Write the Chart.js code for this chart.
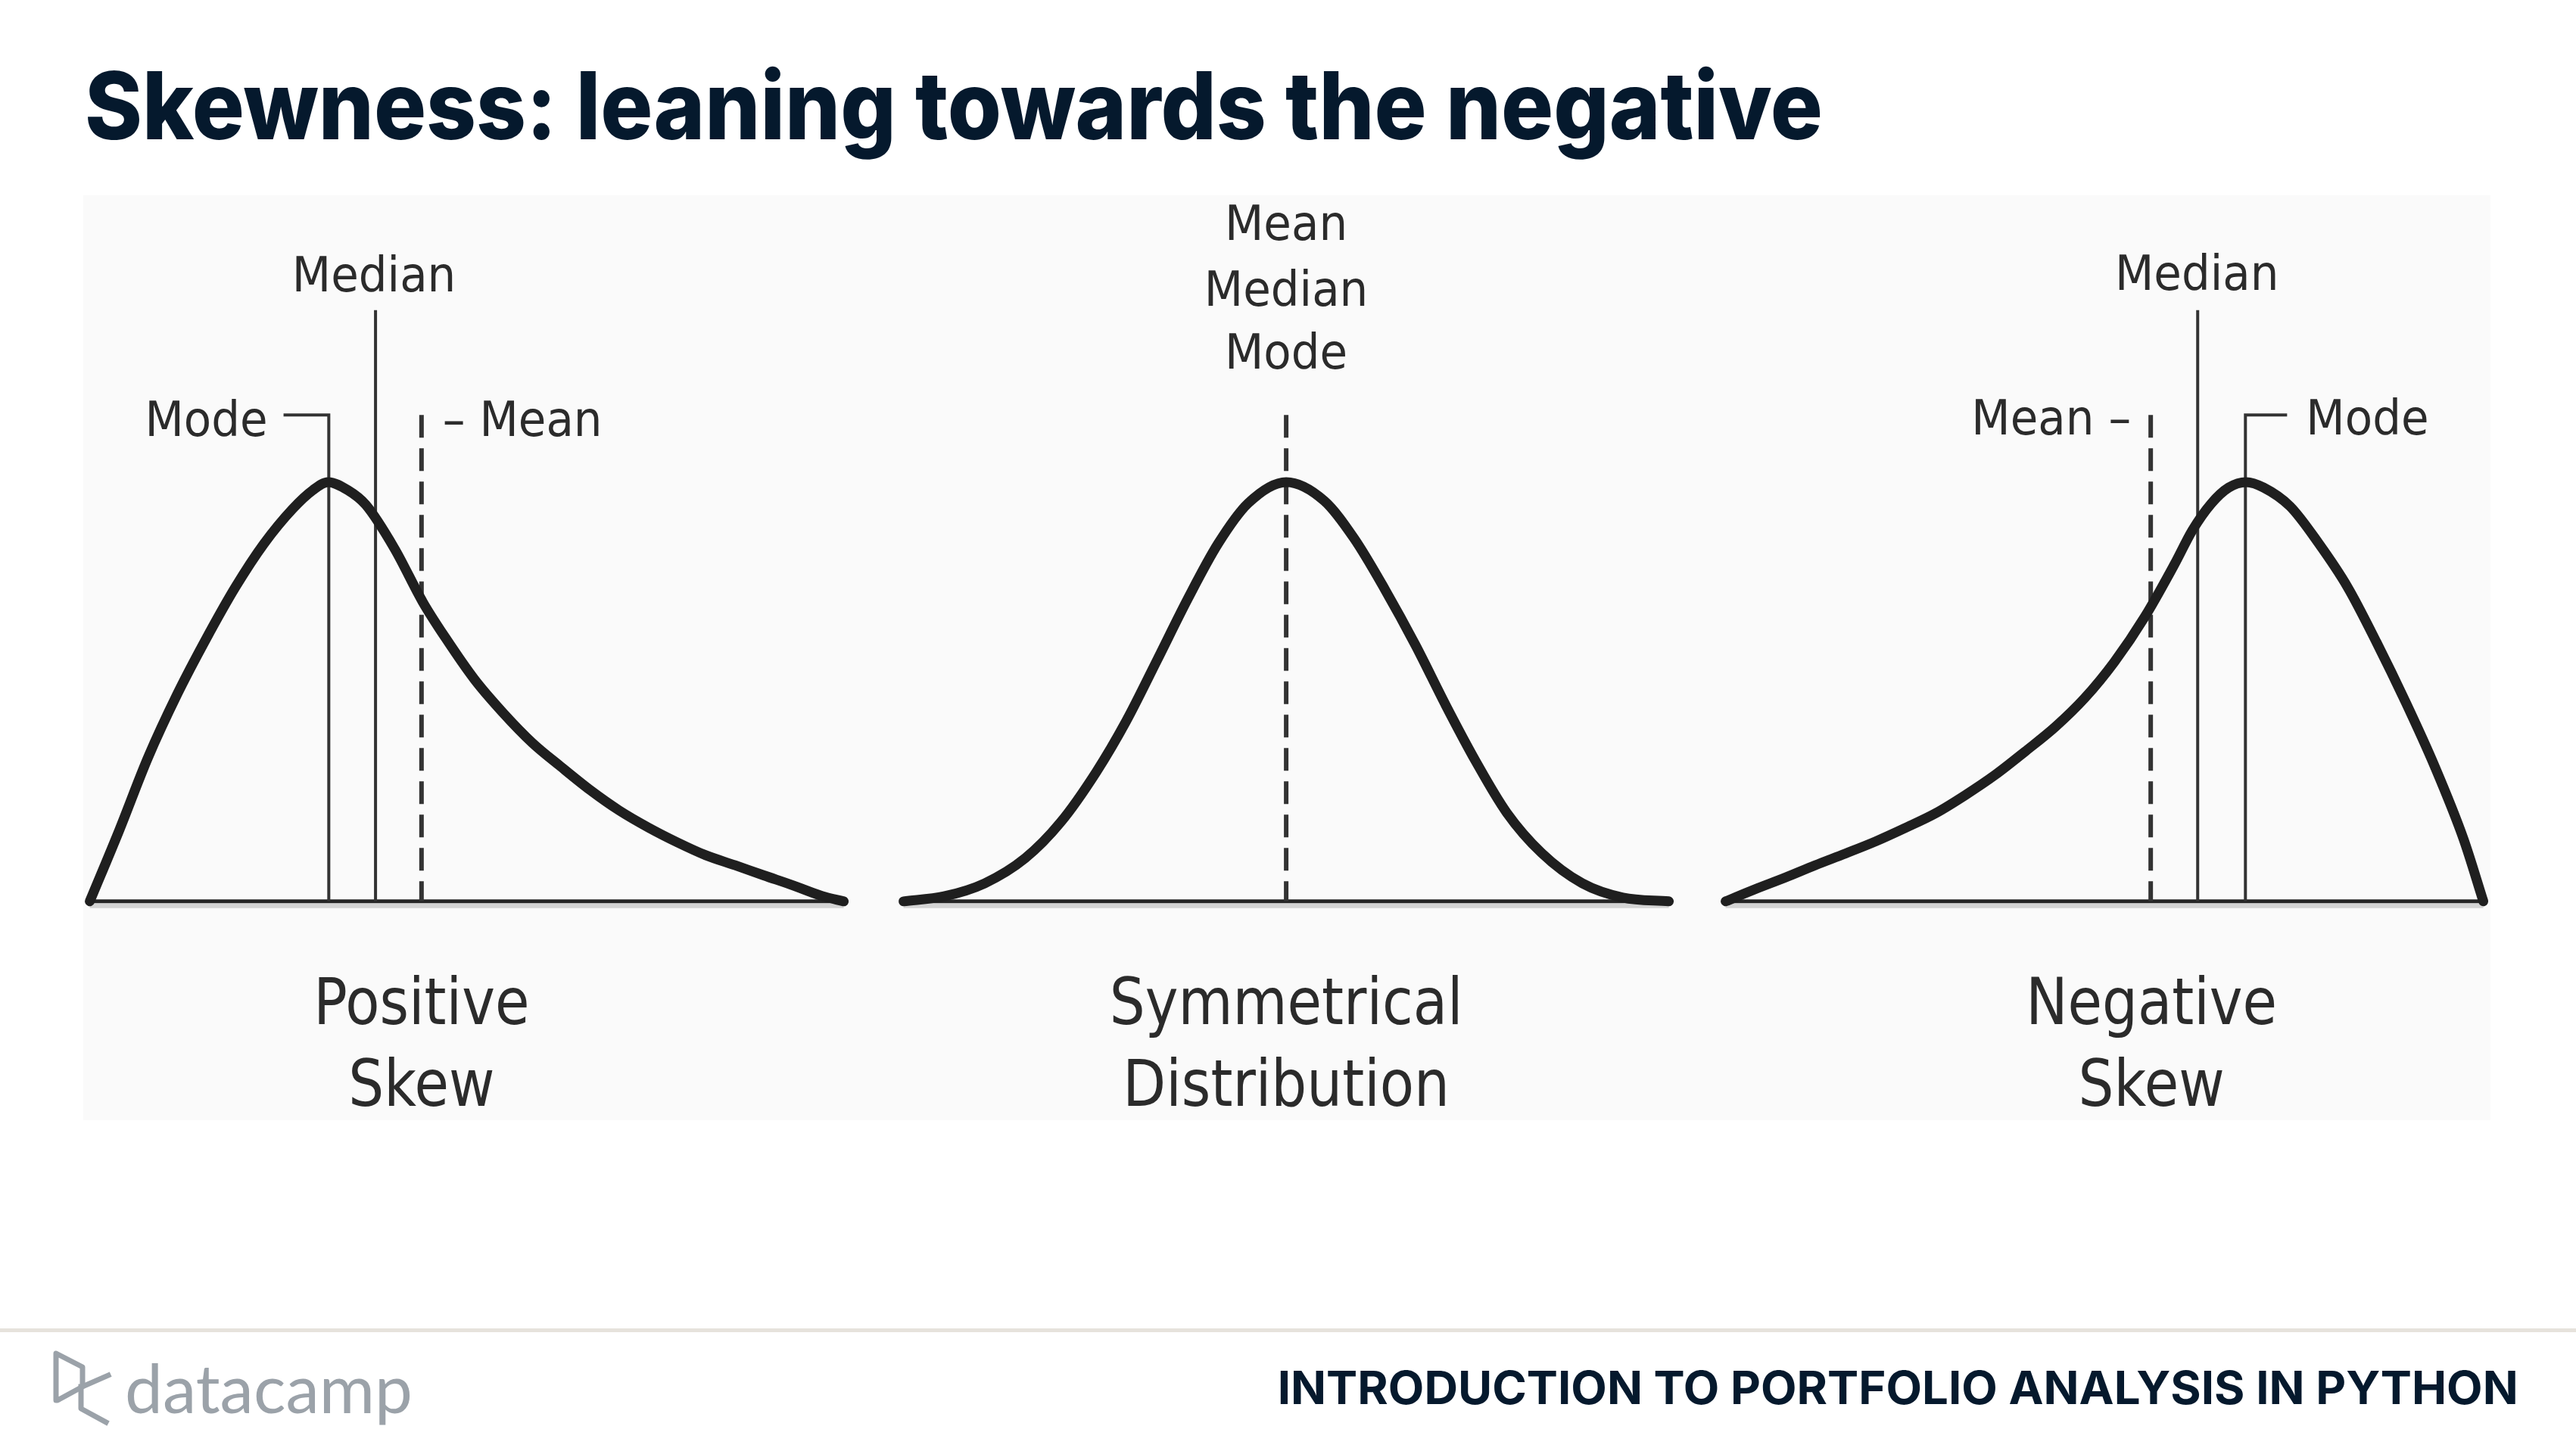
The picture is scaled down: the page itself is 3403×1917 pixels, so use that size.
<!DOCTYPE html>
<html lang="en">
<head>
<meta charset="UTF-8">
<title>Skewness: leaning towards the negative</title>
<script src="https://cdn.jsdelivr.net/npm/chart.js"></script>
<style>
    body {
        margin: 0;
        width: 3403px;
        height: 1917px;
        position: relative;
        overflow: hidden;
        background: #ffffff;
        font-family: Inter, Lato, "Noto Sans", sans-serif;
    }
    .fit { position: absolute; white-space: nowrap; line-height: 1; font-variant-ligatures: none; }
    #title { left: 112px; top: 77px; font-size: 124px; font-weight: 800; color: #05192d; transform-origin: left top; }
    #course { right: 76px; top: 1803px; font-size: 61px; font-weight: 700; color: #05192d; transform-origin: right top; }
    #brand { left: 165px; top: 1788px; font-size: 89px; font-weight: 400; color: #9ba2a9; transform-origin: left top; font-family: Lato, sans-serif; }
    #rule { position: absolute; left: 0; top: 1755px; width: 3403px; height: 5px; background: #e6e2dc; }
    #logo { position: absolute; left: 60px; top: 1775px; }
    #panel { position: absolute; left: 110px; top: 258px; width: 3180px; height: 1222px; background: #fafafa; }
</style>
</head>
<body>

<div id="title" class="fit">Skewness: leaning towards the negative</div>

<div id="panel"><canvas id="chart"></canvas></div>

<div id="rule"></div>
<svg id="logo" width="100" height="120" viewBox="0 0 100 120">
    <g fill="none" stroke="#9ba2a9" stroke-width="7" stroke-linejoin="round" stroke-linecap="square">
        <path d="M14,13 L49,31 L49,57 L16,75 L14,75 Z"/>
        <path d="M49,57 L83,42"/>
        <path d="M47,57 L47,86 L80,104"/>
    </g>
</svg>
<div id="brand" class="fit">datacamp</div>
<div id="course" class="fit">INTRODUCTION TO PORTFOLIO ANALYSIS IN PYTHON</div>

<script>
    // curves: x = 0..100 across each curve, y = 100 at the peak
    const posSkewX = [0, 3.9, 7.7, 11.6, 15.4, 19.3, 23.1, 26.9, 29.6, 31.6, 34.2, 36.6, 40.4, 44.2, 47.2, 51.0, 54.8, 58.7, 62.5, 66.4, 70.2, 74.1, 77.9, 81.7, 85.6, 89.4, 93.3, 97.1, 100];
    const posSkewY = [0, 16.9, 34.2, 49.4, 62.5, 74.9, 85.3, 93.6, 98.1, 100, 98.1, 94.6, 84.2, 71.3, 62.8, 53.0, 45.0, 37.8, 32.1, 26.5, 21.7, 17.6, 14.1, 11.0, 8.6, 6.2, 3.8, 1.3, 0];

    const symX = [0, 5.3, 10.6, 15.9, 20.5, 25.2, 29.1, 33.1, 37.1, 41.1, 45.0, 50, 55.0, 58.9, 62.9, 66.9, 70.9, 74.8, 78.8, 83.4, 88.7, 94.0, 100];
    const symY = [0, 1.2, 4.3, 10.3, 18.8, 30.9, 43.0, 57.4, 72.0, 85.3, 94.9, 100, 95.5, 86.5, 74.4, 61.1, 46.6, 33.3, 21.2, 11.5, 4.3, 0.9, 0];

    const negSkewX = [0, 3.9, 7.9, 11.8, 15.8, 19.8, 23.7, 27.7, 31.6, 35.6, 39.5, 43.5, 47.4, 51.3, 55.3, 59.3, 61.6, 64.1, 66.4, 68.7, 71.0, 74.5, 78.3, 82.1, 85.9, 89.8, 93.6, 97.4, 100];
    const negSkewY = [0, 2.9, 5.7, 8.6, 11.4, 14.3, 17.5, 21.0, 25.3, 30.2, 35.7, 41.6, 48.5, 57.1, 67.8, 80.6, 88.5, 94.9, 98.7, 100, 98.7, 94.2, 85.3, 74.9, 61.8, 47.3, 32.1, 14.8, 0];

    // where mode / median / mean sit on each curve (same 0..100 scale)
    const modeX = [31.7, 50, 68.6];
    const medianX = [37.9, 50, 62.3];
    const meanX = [44.0, 50, 56.1];
    const medianTop = 141;
    const markerTop = 116;
    const modeTickX = [25.7, null, 74.1];

    const captions = [['Positive', 'Skew'], ['Symmetrical', 'Distribution'], ['Negative', 'Skew']];
    const captionX = [44.0, 50, 56.2];
    const captionY = [-23.6, -43.1];

    // panel layout in chart units (1 unit = 10px of the slide)
    const panelOffset = [0, 107.5, 216.1];
    const panelSpan = [99.6, 101.1, 100.1];

    const toX = (p, v) => panelOffset[p] + v * panelSpan[p] / 100;
    const pts = (p, xs, ys) => xs.map((v, i) => ({ x: toX(p, v), y: ys[i] }));

    const ink = '#1f1f1f';
    const lineInk = '#333333';
    const datasets = [];

    const curves = [[posSkewX, posSkewY], [symX, symY], [negSkewX, negSkewY]];
    curves.forEach(([xs, ys], p) => {
        datasets.push({
            data: pts(p, xs, ys),
            borderColor: ink, borderWidth: 13, pointRadius: 0,
            cubicInterpolationMode: 'monotone', borderCapStyle: 'round', order: 0
        });
        datasets.push({
            data: [{ x: toX(p, 0), y: 0 }, { x: toX(p, 100), y: 0 }],
            borderColor: '#262626', borderWidth: 5, pointRadius: 0, order: 2
        });
    });

    [0, 2].forEach(p => {
        // mode with its little bracket
        datasets.push({
            data: [{ x: toX(p, modeTickX[p]), y: markerTop }, { x: toX(p, modeX[p]), y: markerTop }, { x: toX(p, modeX[p]), y: 0 }],
            borderColor: lineInk, borderWidth: 4, pointRadius: 0, borderJoinStyle: 'miter', tension: 0, order: 1
        });
        datasets.push({
            data: [{ x: toX(p, medianX[p]), y: medianTop }, { x: toX(p, medianX[p]), y: 0 }],
            borderColor: lineInk, borderWidth: 4, pointRadius: 0, order: 1
        });
        datasets.push({
            data: [{ x: toX(p, meanX[p]), y: markerTop }, { x: toX(p, meanX[p]), y: 0 }],
            borderColor: lineInk, borderWidth: 6, borderDash: [30, 14], pointRadius: 0, order: 1
        });
    });
    datasets.push({
        data: [{ x: toX(1, meanX[1]), y: markerTop }, { x: toX(1, meanX[1]), y: 0 }],
        borderColor: lineInk, borderWidth: 6, borderDash: [30, 14], pointRadius: 0, order: 1
    });

    // text on the picture
    const notes = [
        { p: 0, text: 'Mode', x: 23.6, y: 115.2, align: 'right' },
        { p: 0, text: 'Median', x: 37.7, y: 149.7, align: 'center' },
        { p: 0, text: '\u2013 Mean', x: 46.8, y: 115.2, align: 'left' },
        { p: 1, text: 'Mean', x: 50, y: 162.0, align: 'center' },
        { p: 1, text: 'Median', x: 50, y: 146.3, align: 'center' },
        { p: 1, text: 'Mode', x: 50, y: 131.2, align: 'center' },
        { p: 2, text: 'Mean \u2013', x: 53.5, y: 115.5, align: 'right' },
        { p: 2, text: 'Median', x: 62.2, y: 150.0, align: 'center' },
        { p: 2, text: 'Mode', x: 76.6, y: 115.5, align: 'left' }
    ];

    function drawText(ctx, text, px, py, size, squeeze, align) {
        ctx.save();
        ctx.translate(px, py + 0.365 * size);
        ctx.scale(squeeze, 1);
        ctx.font = size + 'px "DejaVu Sans"';
        ctx.fillStyle = '#2b2b2b';
        ctx.textAlign = align;
        ctx.textBaseline = 'alphabetic';
        ctx.fillText(text, 0, 0);
        ctx.restore();
    }

    const labelPlugin = {
        id: 'labels',
        beforeDatasetsDraw(chart) {
            // faint grey shadow under each baseline, as in the scanned figure
            const { ctx, scales: { x, y } } = chart;
            const y0 = y.getPixelForValue(0);
            ctx.save();
            ctx.strokeStyle = '#d4d4d4';
            ctx.lineWidth = 6;
            [0, 1, 2].forEach(p => {
                ctx.beginPath();
                ctx.moveTo(x.getPixelForValue(toX(p, 0)), y0 + 6);
                ctx.lineTo(x.getPixelForValue(toX(p, 100)), y0 + 6);
                ctx.stroke();
            });
            ctx.restore();
        },
        afterDatasetsDraw(chart) {
            const { ctx, scales: { x, y } } = chart;
            notes.forEach(n => {
                drawText(ctx, n.text, x.getPixelForValue(toX(n.p, n.x)), y.getPixelForValue(n.y), 64, 0.93, n.align);
            });
            captions.forEach((lines, p) => {
                lines.forEach((t, i) => {
                    drawText(ctx, t, x.getPixelForValue(toX(p, captionX[p])), y.getPixelForValue(captionY[i]), 86, 0.86, 'center');
                });
            });
        }
    };

    new Chart(document.getElementById('chart'), {
        type: 'line',
        data: { datasets },
        options: {
            responsive: true,
            maintainAspectRatio: false,
            animation: false,
            events: [],
            layout: { padding: 0 },
            plugins: { legend: { display: false }, tooltip: { enabled: false } },
            scales: {
                x: { type: 'linear', min: -0.86, max: 317.14, display: false },
                y: { min: -52.2, max: 168.4, display: false }
            }
        },
        plugins: [labelPlugin]
    });

    // squeeze the slide texts to the widths they have on the slide
    function fitWidth(id, target) {
        const el = document.getElementById(id);
        const w = el.getBoundingClientRect().width;
        el.style.transform = 'scaleX(' + (target / w) + ')';
    }
    fitWidth('title', 2296);
    fitWidth('course', 1639);
    fitWidth('brand', 380);
</script>

</body>
</html>
